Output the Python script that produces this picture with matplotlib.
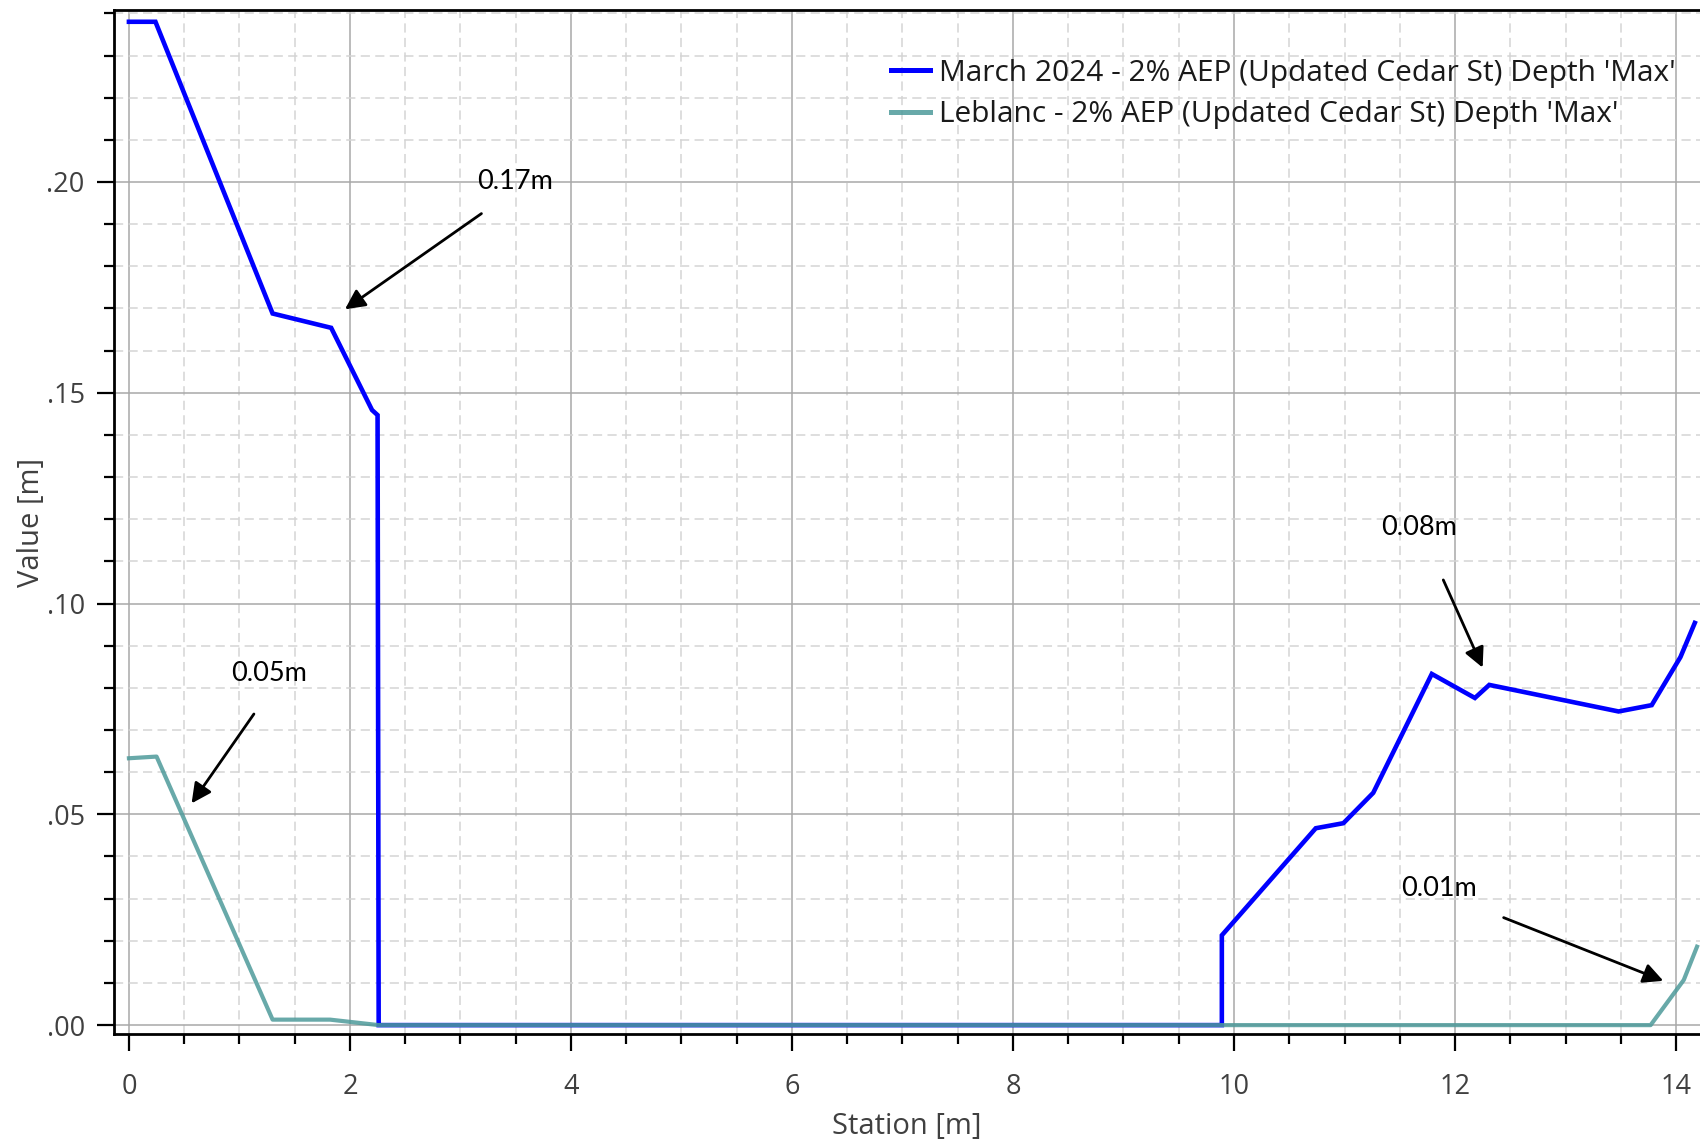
import matplotlib
matplotlib.use('Agg')
import matplotlib.pyplot as plt
from matplotlib.ticker import MultipleLocator, FuncFormatter

# ---- data ----
station_march = [0.0, 0.24, 1.30, 1.83, 2.20, 2.25, 2.26, 9.89, 9.89, 10.74, 10.99,
                 11.26, 11.79, 12.18, 12.31, 13.48, 13.78, 14.04, 14.17]
depth_march = [0.238, 0.238, 0.1688, 0.1654, 0.1459, 0.1447, 0.0, 0.0, 0.0213, 0.0467,
               0.0479, 0.0551, 0.0833, 0.0776, 0.0807, 0.0744, 0.0759, 0.0873, 0.0954]
station_leblanc = [0.0, 0.25, 1.30, 1.82, 2.26, 13.77, 14.07, 14.19]
depth_leblanc = [0.0633, 0.0637, 0.0013, 0.0013, 0.0, 0.0, 0.0107, 0.0186]

label_march = "March 2024 - 2% AEP (Updated Cedar St) Depth 'Max'"
label_leblanc = "Leblanc - 2% AEP (Updated Cedar St) Depth 'Max'"

annot_labels = ['0.17m', '0.05m', '0.08m', '0.01m']
annot_text_pos = [(3.49, 0.2002), (1.267, 0.0835), (11.674, 0.1181), (11.855, 0.0325)]
annot_tail = [(3.19, 0.1925), (1.131, 0.0738), (11.894, 0.1056), (12.44, 0.0255)]
annot_head = [(1.955, 0.1698), (0.567, 0.0526), (12.25, 0.0848), (13.885, 0.0105)]

# ---- figure ----
fig = plt.figure(figsize=(17, 11.42), dpi=100)
ax = fig.add_axes([0.067, 0.0946, 0.933, 0.8963])

blue = '#0000FF'
teal = '#4E9A9A'
tick_col = '#404040'
ui_font = ['Open Sans', 'DejaVu Sans']

ax.plot(station_march, depth_march, color=blue, lw=3.3, label=label_march, zorder=3,
        solid_joinstyle='miter')
ax.plot(station_leblanc, depth_leblanc, color=teal, lw=3.0, alpha=0.85, label=label_leblanc,
        zorder=4)

ax.set_xlim(-0.136, 14.217)
ax.set_ylim(-0.0021, 0.2407)

ax.xaxis.set_major_locator(MultipleLocator(2))
ax.xaxis.set_minor_locator(MultipleLocator(0.5))
ax.yaxis.set_major_locator(MultipleLocator(0.05))
ax.yaxis.set_minor_locator(MultipleLocator(0.01))
ax.yaxis.set_major_formatter(FuncFormatter(lambda v, p: ('%.2f' % v).lstrip('0').replace('-', '')))
ax.xaxis.set_major_formatter(FuncFormatter(lambda v, p: '%d' % round(v)))

ax.grid(which='major', color='#a8a8a8', lw=1.1, ls='-', zorder=0)
ax.grid(which='minor', color='#d4d4d4', lw=1.1, ls=(0, (6, 3.5)), zorder=0)

ax.tick_params(which='major', direction='out', length=12, width=1.6, color='black',
               labelcolor=tick_col, labelsize=19.5, pad=9)
ax.tick_params(which='minor', direction='out', length=7.5, width=1.6, color='black')
ax.tick_params(axis='x', which='major', pad=16)
for lab in ax.get_xticklabels() + ax.get_yticklabels():
    lab.set_family(ui_font)

for s in ['left', 'bottom', 'top']:
    ax.spines[s].set_color('black')
    ax.spines[s].set_linewidth(2)
ax.spines['right'].set_visible(False)

ax.set_xlabel('Station [m]', fontsize=21, color=tick_col, family=ui_font, labelpad=8)
ax.set_ylabel('Value [m]', fontsize=21, color=tick_col, family=ui_font, labelpad=0)

for lab, tpos, tail, head in zip(annot_labels, annot_text_pos, annot_tail, annot_head):
    ax.annotate('', xy=head, xytext=tail,
                arrowprops=dict(arrowstyle='-|>', color='black', lw=2, shrinkA=0, shrinkB=0,
                                mutation_scale=30), zorder=6)
    ax.text(tpos[0], tpos[1], lab, ha='center', va='center', fontsize=19.5,
            family=['Lato', 'DejaVu Sans'], color='black', zorder=6)

leg = ax.legend(loc='upper left', bbox_to_anchor=(0.524, 0.9485), bbox_transform=fig.transFigure,
                frameon=False, borderpad=0, borderaxespad=0, handlelength=1.3,
                handletextpad=0.3, labelspacing=0.42, prop={'family': ui_font, 'size': 21.5})
for t in leg.get_texts():
    t.set_color('#1a1a1a')
for h in leg.get_lines():
    h.set_linewidth(3.6)

fig.savefig('out.png', dpi=100)
